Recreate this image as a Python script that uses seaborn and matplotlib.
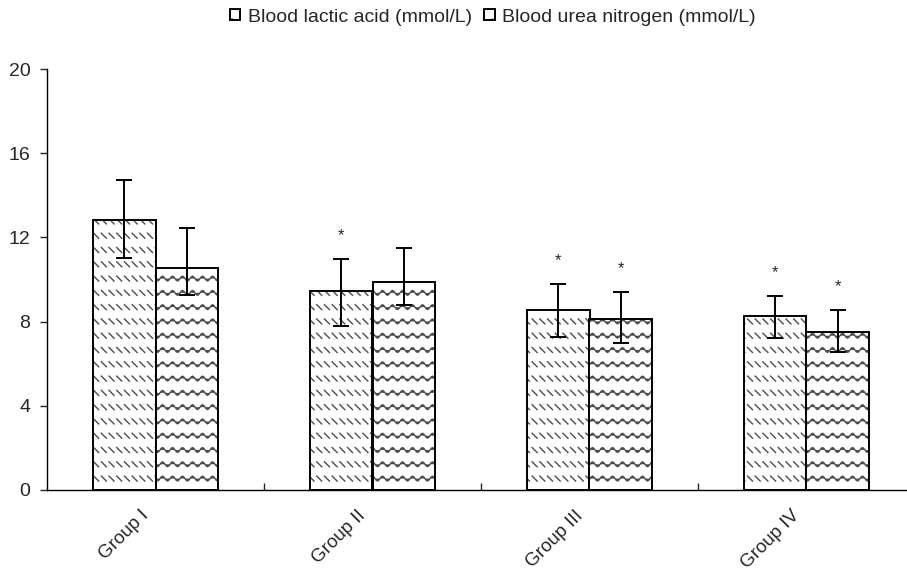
import numpy as np
import pandas as pd
import seaborn as sns
import matplotlib
matplotlib.use("Agg")
import matplotlib.pyplot as plt
import matplotlib.transforms as mtrans
from matplotlib import hatch as mhatch
from matplotlib.path import Path

# data
groups = ["Group I", "Group II", "Group III", "Group IV"]
measures = ["Blood lactic acid (mmol/L)", "Blood urea nitrogen (mmol/L)"]
lactic = [12.83, 9.45, 8.55, 8.27]
lactic_lo = [11.02, 7.79, 7.27, 7.22]
lactic_hi = [14.73, 10.97, 9.79, 9.22]
urea = [10.55, 9.88, 8.12, 7.50]
urea_lo = [9.26, 8.79, 6.98, 6.56]
urea_hi = [12.45, 11.50, 9.41, 8.55]
lactic_sig = ["", "*", "*", "*"]
urea_sig = ["", "", "*", "*"]


# two extra hatch patterns: short "\" dashes and wavy lines
class DashHatch(mhatch.HatchPatternBase):
    def __init__(self, hatch, density):
        n = hatch.count('o')
        self.rows = 7 if n else 0
        self.cols = 13
        self.num_vertices = self.rows * self.cols * 2

    def set_vertices_and_codes(self, vertices, codes):
        ys = (np.arange(self.rows) + 0.5) / self.rows
        xs = (np.arange(self.cols) + 0.5) / self.cols
        X, Y = np.meshgrid(xs, ys)
        X = X.ravel()
        Y = Y.ravel()
        d = 0.025
        vertices[0::2, 0] = X - d
        vertices[0::2, 1] = Y + d
        vertices[1::2, 0] = X + d
        vertices[1::2, 1] = Y - d
        codes[0::2] = Path.MOVETO
        codes[1::2] = Path.LINETO


class WaveHatch(mhatch.HatchPatternBase):
    def __init__(self, hatch, density):
        n = hatch.count('O')
        self.rows = 7 if n else 0
        self.periods = 10
        self.pts = self.periods * 8 + 1
        self.num_vertices = self.rows * self.pts

    def set_vertices_and_codes(self, vertices, codes):
        x = np.linspace(0, 1, self.pts)
        for i in range(self.rows):
            y0 = (i + 0.5) / self.rows
            s = slice(i * self.pts, (i + 1) * self.pts)
            vertices[s, 0] = x
            vertices[s, 1] = y0 + 0.024 * np.sin(2 * np.pi * self.periods * x)
            codes[s] = Path.LINETO
            codes[i * self.pts] = Path.MOVETO


mhatch._hatch_types = [DashHatch if t is mhatch.SmallCircles
                       else WaveHatch if t is mhatch.LargeCircles
                       else t for t in mhatch._hatch_types]

sns.set_style("white")
plt.rcParams['font.family'] = ['Liberation Sans', 'DejaVu Sans']
plt.rcParams['hatch.linewidth'] = 1.0

df = pd.DataFrame({
    "group": groups * 2,
    "value": lactic + urea,
    "measure": [measures[0]] * 4 + [measures[1]] * 4,
})

fig = plt.figure(figsize=(9.07, 5.74), dpi=100)
ax = fig.add_axes([47 / 907, 84 / 574, 868 / 907, 421 / 574])

sns.barplot(data=df, x="group", y="value", hue="measure", width=0.575,
            palette=["white", "white"], edgecolor="black", linewidth=1.4,
            errorbar=None, saturation=1, ax=ax)
ax.get_legend().remove()

hatches = ["o", "O"]
lows = [lactic_lo, urea_lo]
highs = [lactic_hi, urea_hi]
means = [lactic, urea]
sigs = [lactic_sig, urea_sig]
bars = list(ax.containers)
for k, cont in enumerate(bars):
    xs = []
    for p in cont.patches:
        p.set_hatch(hatches[k])
        p._hatch_color = (0.3, 0.3, 0.3, 1.0)
        xs.append(p.get_x() + p.get_width() / 2)
    m = np.array(means[k])
    lo = m - np.array(lows[k])
    hi = np.array(highs[k]) - m
    ax.errorbar(xs, m, yerr=[lo, hi], fmt="none", ecolor="black",
                elinewidth=1.4, capsize=6, capthick=1.4, zorder=5)
    for x, top, s in zip(xs, highs[k], sigs[k]):
        if s:
            ax.text(x, top + 1.1, s, ha="center", va="center", fontsize=12)

ax.set_xlim(-0.5, 3.5)
ax.set_ylim(0, 20)
ax.set_yticks([0, 4, 8, 12, 16, 20])
ax.set_xlabel("")
ax.set_ylabel("")
for s in ["top", "right"]:
    ax.spines[s].set_visible(False)
for s in ["left", "bottom"]:
    ax.spines[s].set_color("black")
    ax.spines[s].set_linewidth(1.0)

ax.tick_params(axis="y", direction="out", length=5, width=1, left=True,
               labelsize=14, pad=7)
ax.tick_params(axis="x", which="major", length=0, labelsize=13.5, pad=19)
ax.set_xticks([0.5, 1.5, 2.5], minor=True)
ax.tick_params(axis="x", which="minor", direction="in", length=5, width=1,
               bottom=True)
shift = mtrans.ScaledTranslation(-6 / 100, 0, fig.dpi_scale_trans)
for lab in ax.get_xticklabels():
    lab.set_rotation(45)
    lab.set_ha("right")
    lab.set_va("baseline")
    lab.set_rotation_mode("anchor")
    lab.set_transform(lab.get_transform() + shift)

fig.legend(handles=bars, labels=measures, loc="center left",
           bbox_to_anchor=(220 / 907, 1 - 17 / 574), ncol=2, frameon=False,
           fontsize=14, handlelength=0.55, handleheight=0.55, handletextpad=0.4,
           columnspacing=0.6, borderpad=0)

fig.savefig("out.png", dpi=100)
